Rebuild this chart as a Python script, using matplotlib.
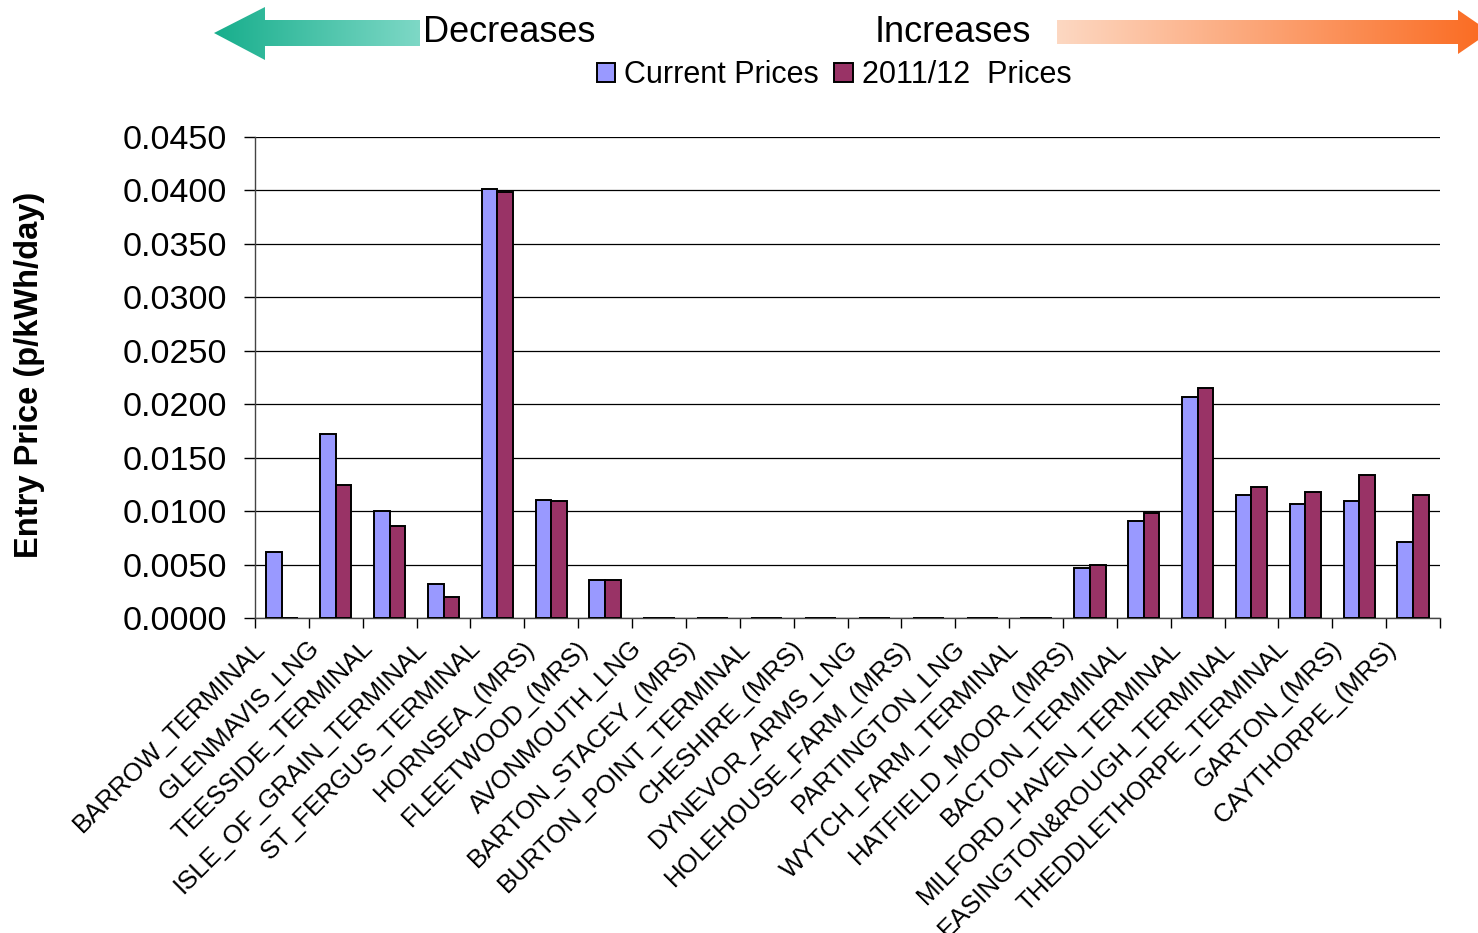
import matplotlib
matplotlib.use("Agg")
import matplotlib.pyplot as plt
import numpy as np
from matplotlib.patches import Polygon
from matplotlib.ticker import FormatStrFormatter, FixedLocator
from matplotlib.transforms import ScaledTranslation
from matplotlib.colors import LinearSegmentedColormap

plt.rcParams['font.family'] = ['Liberation Sans', 'DejaVu Sans']

categories = ["BARROW_TERMINAL", "GLENMAVIS_LNG", "TEESSIDE_TERMINAL", "ISLE_OF_GRAIN_TERMINAL",
              "ST_FERGUS_TERMINAL", "HORNSEA_(MRS)", "FLEETWOOD_(MRS)", "AVONMOUTH_LNG",
              "BARTON_STACEY_(MRS)", "BURTON_POINT_TERMINAL", "CHESHIRE_(MRS)", "DYNEVOR_ARMS_LNG",
              "HOLEHOUSE_FARM_(MRS)", "PARTINGTON_LNG", "WYTCH_FARM_TERMINAL", "HATFIELD_MOOR_(MRS)",
              "BACTON_TERMINAL", "MILFORD_HAVEN_TERMINAL", "EASINGTON&ROUGH_TERMINAL",
              "THEDDLETHORPE_TERMINAL", "GARTON_(MRS)", "CAYTHORPE_(MRS)"]
current_prices = [0.0062, 0.0172, 0.0100, 0.0032, 0.0401, 0.0110, 0.0036, 0.0, 0.0, 0.0, 0.0,
                  0.0, 0.0, 0.0, 0.0, 0.0047, 0.0091, 0.0207, 0.0115, 0.0107, 0.0109, 0.0071]
prices_2011 = [0.0, 0.0124, 0.0086, 0.0020, 0.0399, 0.0109, 0.0036, 0.0, 0.0, 0.0, 0.0,
               0.0, 0.0, 0.0, 0.0, 0.0050, 0.0098, 0.0215, 0.0123, 0.0118, 0.0134, 0.0115]
series_names = ["Current Prices", "2011/12  Prices"]
yticks = [0.0, 0.005, 0.010, 0.015, 0.020, 0.025, 0.030, 0.035, 0.040, 0.045]

W, H = 1478, 933
fig = plt.figure(figsize=(W / 100, H / 100), dpi=100)
ax = fig.add_axes([255 / W, 1 - 618 / H, (1440 - 255) / W, (618 - 137) / H])

x = np.arange(len(categories))
bw = 0.29
ax.bar(x - bw / 2, current_prices, bw, color='#9999FF', edgecolor='black', linewidth=1.4,
       label=series_names[0], zorder=3)
ax.bar(x + bw / 2, prices_2011, bw, color='#993366', edgecolor='black', linewidth=1.4,
       label=series_names[1], zorder=3)

ax.set_xlim(-0.5, len(categories) - 0.5)
ax.set_ylim(0, 0.045)
ax.set_yticks(yticks)
ax.yaxis.set_major_formatter(FormatStrFormatter('%.4f'))
ax.tick_params(axis='y', labelsize=24.5, length=8, width=1, direction='out', pad=12)
ax.yaxis.grid(True, color='black', linewidth=0.9, zorder=0)
ax.set_axisbelow(True)

ax.set_xticks(x)
ax.set_xticklabels(categories, rotation=45, ha='right', va='top', rotation_mode='anchor', fontsize=18.5)
ax.tick_params(axis='x', which='major', length=0, pad=10)
ax.xaxis.set_minor_locator(FixedLocator(np.arange(len(categories) + 1) - 0.5))
ax.tick_params(axis='x', which='minor', length=7, width=1, direction='out')
offset = ScaledTranslation(-0.29, -0.04, fig.dpi_scale_trans)
for lbl in ax.get_xticklabels():
    lbl.set_transform(lbl.get_transform() + offset)

for s in ['top', 'right']:
    ax.spines[s].set_visible(False)
for s in ['left', 'bottom']:
    ax.spines[s].set_linewidth(1)
    ax.spines[s].set_color('#444444')

fig.text(30 / W, 1 - 375 / H, "Entry Price (p/kWh/day)", rotation=90, ha='center', va='center',
         fontsize=23.5, fontweight='bold')

leg = ax.legend(loc='center', bbox_to_anchor=(834 / W, 1 - 75 / H), bbox_transform=fig.transFigure,
                ncol=2, frameon=False, fontsize=22, handlelength=0.6, handleheight=0.6,
                handletextpad=0.3, columnspacing=0.5, borderpad=0)

# decorative arrows
dax = fig.add_axes([0, 0, 1, 1])
dax.set_xlim(0, W)
dax.set_ylim(H, 0)
dax.axis('off')
dax.patch.set_alpha(0)

cm_left = LinearSegmentedColormap.from_list('l', ['#17AE8C', '#7ED8C6'])
cm_right = LinearSegmentedColormap.from_list('r', ['#FDD8C2', '#FA6A20'])
grad = np.linspace(0, 1, 256).reshape(1, -1)

lpoly = Polygon([(214, 33), (265, 7), (265, 20), (420, 20), (420, 46), (265, 46), (265, 60)],
                closed=True, facecolor='none', edgecolor='none')
dax.add_patch(lpoly)
im = dax.imshow(grad, cmap=cm_left, extent=(214, 420, 60, 7), aspect='auto', zorder=1)
im.set_clip_path(lpoly)

rpoly = Polygon([(1057, 20), (1458, 20), (1458, 10), (1490, 32), (1458, 54), (1458, 44), (1057, 44)],
                closed=True, facecolor='none', edgecolor='none')
dax.add_patch(rpoly)
im2 = dax.imshow(grad, cmap=cm_right, extent=(1057, 1490, 54, 10), aspect='auto', zorder=1)
im2.set_clip_path(rpoly)
dax.set_xlim(0, W)
dax.set_ylim(H, 0)

fig.text(423 / W, 1 - 33 / H, "Decreases", fontsize=26, ha='left', va='center')
fig.text(1031 / W, 1 - 33 / H, "Increases", fontsize=26, ha='right', va='center')

fig.savefig("out.png", dpi=100)
